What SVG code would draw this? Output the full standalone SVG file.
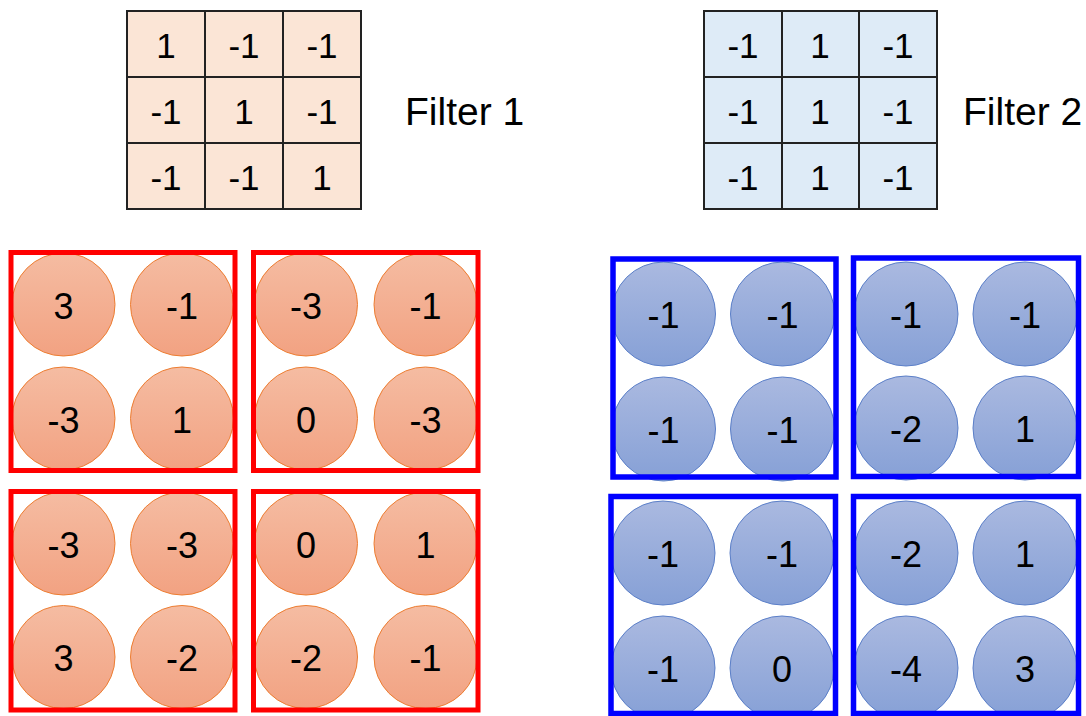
<svg xmlns="http://www.w3.org/2000/svg" width="1086" height="716" viewBox="0 0 1086 716">
<defs>
<linearGradient id="gR" x1="0" y1="0" x2="0" y2="1"><stop offset="0" stop-color="#F5BCA2"/><stop offset="1" stop-color="#F2A282"/></linearGradient>
<linearGradient id="gB" x1="0" y1="0" x2="0" y2="1"><stop offset="0" stop-color="#AAB9E0"/><stop offset="1" stop-color="#86A0D6"/></linearGradient>
<style>
text{font-family:"Liberation Sans",Arial,sans-serif;fill:#000;text-anchor:middle}
.t{font-size:35px}
.c{font-size:36px}
.lbl{font-size:39px;text-anchor:start}
.grid{stroke:#222;stroke-width:2;fill:none}
.cr{fill:url(#gR);stroke:#ED7D31;stroke-width:1}
.cb{fill:url(#gB);stroke:#5B7FC8;stroke-width:1}
.br{fill:none;stroke:#FF0000;stroke-width:5}
.bb{fill:none;stroke:#0000FF;stroke-width:5.5}
</style>
</defs>
<rect width="1086" height="716" fill="#fff"/>

<g id="filter1">
<rect x="127" y="11" width="234" height="198" fill="#FBE5D6"/>
<path class="grid" d="M127 11H361V209H127Z M205 11V209 M283 11V209 M127 77H361 M127 143H361"/>
<text class="t" x="166" y="58">1</text><text class="t" x="244" y="58">-1</text><text class="t" x="322" y="58">-1</text>
<text class="t" x="166" y="124">-1</text><text class="t" x="244" y="124">1</text><text class="t" x="322" y="124">-1</text>
<text class="t" x="166" y="190">-1</text><text class="t" x="244" y="190">-1</text><text class="t" x="322" y="190">1</text>
</g>
<g id="filter1-label"><text class="lbl" x="405" y="125">Filter 1</text></g>

<g id="filter2">
<rect x="704" y="11" width="233" height="198" fill="#DEEBF7"/>
<path class="grid" d="M704 11H937V209H704Z M782 11V209 M859 11V209 M704 77H937 M704 143H937"/>
<text class="t" x="743" y="58">-1</text><text class="t" x="820" y="58">1</text><text class="t" x="898" y="58">-1</text>
<text class="t" x="743" y="124">-1</text><text class="t" x="820" y="124">1</text><text class="t" x="898" y="124">-1</text>
<text class="t" x="743" y="190">-1</text><text class="t" x="820" y="190">1</text><text class="t" x="898" y="190">-1</text>
</g>
<g id="filter2-label"><text class="lbl" x="963" y="125">Filter 2</text></g>

<g id="red1">
<circle class="cr" cx="63.5" cy="304.5" r="51.5"/><circle class="cr" cx="182" cy="304.5" r="51.5"/>
<circle class="cr" cx="63.5" cy="418.5" r="51.5"/><circle class="cr" cx="182" cy="418.5" r="51.5"/>
<text class="c" x="63.5" y="318.5">3</text><text class="c" x="182" y="318.5">-1</text>
<text class="c" x="63.5" y="432.5">-3</text><text class="c" x="182" y="432.5">1</text>
<rect class="br" x="11" y="252.5" width="224" height="218"/>
</g>
<g id="red2">
<circle class="cr" cx="306" cy="304.5" r="51.5"/><circle class="cr" cx="425.5" cy="304.5" r="51.5"/>
<circle class="cr" cx="306" cy="418.5" r="51.5"/><circle class="cr" cx="425.5" cy="418.5" r="51.5"/>
<text class="c" x="306" y="318.5">-3</text><text class="c" x="425.5" y="318.5">-1</text>
<text class="c" x="306" y="432.5">0</text><text class="c" x="425.5" y="432.5">-3</text>
<rect class="br" x="253.5" y="252.5" width="224.5" height="218"/>
</g>
<g id="red3">
<circle class="cr" cx="63.5" cy="543.5" r="51.5"/><circle class="cr" cx="182" cy="543.5" r="51.5"/>
<circle class="cr" cx="63.5" cy="657" r="51.5"/><circle class="cr" cx="182" cy="657" r="51.5"/>
<text class="c" x="63.5" y="557.5">-3</text><text class="c" x="182" y="557.5">-3</text>
<text class="c" x="63.5" y="671">3</text><text class="c" x="182" y="671">-2</text>
<rect class="br" x="11" y="491.5" width="224" height="218.5"/>
</g>
<g id="red4">
<circle class="cr" cx="306" cy="543.5" r="51.5"/><circle class="cr" cx="425.5" cy="543.5" r="51.5"/>
<circle class="cr" cx="306" cy="657" r="51.5"/><circle class="cr" cx="425.5" cy="657" r="51.5"/>
<text class="c" x="306" y="557.5">0</text><text class="c" x="425.5" y="557.5">1</text>
<text class="c" x="306" y="671">-2</text><text class="c" x="425.5" y="671">-1</text>
<rect class="br" x="253.5" y="491.5" width="224.5" height="218.5"/>
</g>

<g id="blue1">
<circle class="cb" cx="663.5" cy="314" r="52"/><circle class="cb" cx="782.5" cy="314" r="52"/>
<circle class="cb" cx="663.5" cy="429" r="52"/><circle class="cb" cx="782.5" cy="429" r="52"/>
<text class="c" x="663.5" y="328">-1</text><text class="c" x="782.5" y="328">-1</text>
<text class="c" x="663.5" y="443">-1</text><text class="c" x="782.5" y="443">-1</text>
<rect class="bb" x="613" y="259" width="223" height="218"/>
</g>
<g id="blue2">
<circle class="cb" cx="906" cy="314" r="52"/><circle class="cb" cx="1025" cy="314" r="52"/>
<circle class="cb" cx="906" cy="428" r="52"/><circle class="cb" cx="1025" cy="428" r="52"/>
<text class="c" x="906" y="328">-1</text><text class="c" x="1025" y="328">-1</text>
<text class="c" x="906" y="442">-2</text><text class="c" x="1025" y="442">1</text>
<rect class="bb" x="853.5" y="258" width="225" height="218.5"/>
</g>
<g id="blue3">
<circle class="cb" cx="663" cy="553" r="52"/><circle class="cb" cx="782" cy="553" r="52"/>
<circle class="cb" cx="663" cy="668" r="52"/><circle class="cb" cx="782" cy="668" r="52"/>
<text class="c" x="663" y="567">-1</text><text class="c" x="782" y="567">-1</text>
<text class="c" x="663" y="682">-1</text><text class="c" x="782" y="682">0</text>
<rect class="bb" x="611" y="496.5" width="224.5" height="217"/>
</g>
<g id="blue4">
<circle class="cb" cx="906" cy="553" r="52"/><circle class="cb" cx="1025" cy="553" r="52"/>
<circle class="cb" cx="906" cy="668" r="52"/><circle class="cb" cx="1025" cy="668" r="52"/>
<text class="c" x="906" y="567">-2</text><text class="c" x="1025" y="567">1</text>
<text class="c" x="906" y="682">-4</text><text class="c" x="1025" y="682">3</text>
<rect class="bb" x="853.5" y="496.5" width="225" height="217"/>
</g>
</svg>
